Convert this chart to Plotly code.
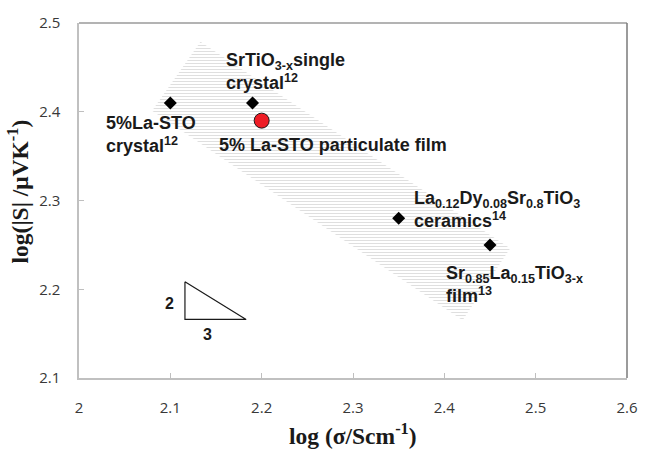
import plotly.graph_objects as go

# ---- data ----
ref_sigma = [2.10, 2.19, 2.35, 2.45]   # log(sigma) of literature points
ref_S = [2.41, 2.41, 2.28, 2.25]       # log|S| of literature points
film_sigma = [2.20]
film_S = [2.39]
band_x = [2.133, 2.472, 2.420, 2.080, 2.133]   # shaded guide band corners
band_y = [2.479, 2.246, 2.165, 2.401, 2.479]
tri_x = [2.116, 2.116, 2.183, 2.116]            # slope triangle (2:3)
tri_y = [2.2085, 2.166, 2.166, 2.2085]
x_ticks = [2.0, 2.1, 2.2, 2.3, 2.4, 2.5, 2.6]
y_ticks = [2.1, 2.2, 2.3, 2.4, 2.5]

LBL = dict(family="Liberation Sans, Arial, sans-serif", size=18, color="#1a1a1a", weight="bold")
SERIF = dict(family="Liberation Serif, Times New Roman, serif", size=23.5, color="#1a1a1a", weight="bold")

fig = go.Figure()
fig.add_trace(go.Scatter(
    x=band_x, y=band_y, mode="lines", fill="toself",
    line=dict(width=0, color="rgba(0,0,0,0)"),
    fillcolor="white",
    fillpattern=dict(shape="-", size=3, solidity=0.3, fgcolor="#b8b8b8", bgcolor="white"),
    hoverinfo="skip", showlegend=False))
fig.add_trace(go.Scatter(
    x=tri_x, y=tri_y, mode="lines", line=dict(color="#1a1a1a", width=1.2),
    hoverinfo="skip", showlegend=False))
fig.add_trace(go.Scatter(
    x=ref_sigma, y=ref_S, mode="markers",
    marker=dict(symbol="diamond", size=10, color="black"), showlegend=False))
fig.add_trace(go.Scatter(
    x=film_sigma, y=film_S, mode="markers",
    marker=dict(symbol="circle", size=15, color="#ee1c25", line=dict(color="#1a1a1a", width=1)),
    showlegend=False))

labels = [
    ("5%La-STO<br>crystal<sup>12</sup>", 2.027, 2.3748),
    ("SrTiO<sub>3-x</sub>single<br>crystal<sup>12</sup>", 2.159, 2.4452),
    ("5% La-STO particulate film", 2.1506, 2.3628),
    ("La<sub>0.12</sub>Dy<sub>0.08</sub>Sr<sub>0.8</sub>TiO<sub>3</sub><br>ceramics<sup>14</sup>", 2.3648, 2.2901),
    ("Sr<sub>0.85</sub>La<sub>0.15</sub>TiO<sub>3-x</sub><br>film<sup>13</sup>", 2.400, 2.2049),
]
ann = []
for t, x, y in labels:
    ann.append(dict(text=t, x=x, y=y, xref="x", yref="y", xanchor="left", yanchor="middle",
                    align="left", showarrow=False, font=LBL))
ann.append(dict(text="2", x=2.0993, y=2.1843, xref="x", yref="y", showarrow=False,
                font=dict(LBL, size=16)))
ann.append(dict(text="3", x=2.1412, y=2.1487, xref="x", yref="y", showarrow=False,
                font=dict(LBL, size=16)))
ann.append(dict(text="log (σ/Scm<sup>-1</sup>)", x=0.5, y=-0.157, xref="paper", yref="paper",
                xanchor="center", yanchor="middle", showarrow=False, font=SERIF))
ann.append(dict(text="log(|S| /μVK<sup>-1</sup>)", x=-0.1117, y=0.525, xref="paper", yref="paper",
                xanchor="center", yanchor="middle", textangle=-90, showarrow=False, font=SERIF))

tickfont = dict(family="Open Sans, sans-serif", size=15, color="#383838")
fig.update_layout(
    width=650, height=451,
    margin=dict(l=79, r=16, t=22, b=73),
    paper_bgcolor="white", plot_bgcolor="white",
    annotations=ann,
    xaxis=dict(range=[2.0, 2.6], tickvals=x_ticks, ticktext=[f"{v:g}" for v in x_ticks],
               ticks="inside", ticklen=5, tickcolor="#bfbfbf", showgrid=False, zeroline=False,
               showline=True, linecolor="#c0c0c0", linewidth=1.5, tickfont=tickfont,
               ticklabelstandoff=15),
    yaxis=dict(range=[2.1, 2.5], tickvals=y_ticks, ticktext=[f"{v:g}" for v in y_ticks],
               ticks="inside", ticklen=5, tickcolor="#bfbfbf", showgrid=False, zeroline=False,
               showline=True, linecolor="#c0c0c0", linewidth=1.5, tickfont=tickfont,
               ticklabelstandoff=14),
    shapes=[
        dict(type="line", xref="paper", yref="paper", x0=0, x1=1, y0=1, y1=1,
             line=dict(color="#9a9a9a", width=1.5)),
        dict(type="line", xref="paper", yref="paper", x0=1, x1=1, y0=0, y1=1,
             line=dict(color="#7a7a7a", width=1.5)),
    ],
)
fig.write_html("out.html")
